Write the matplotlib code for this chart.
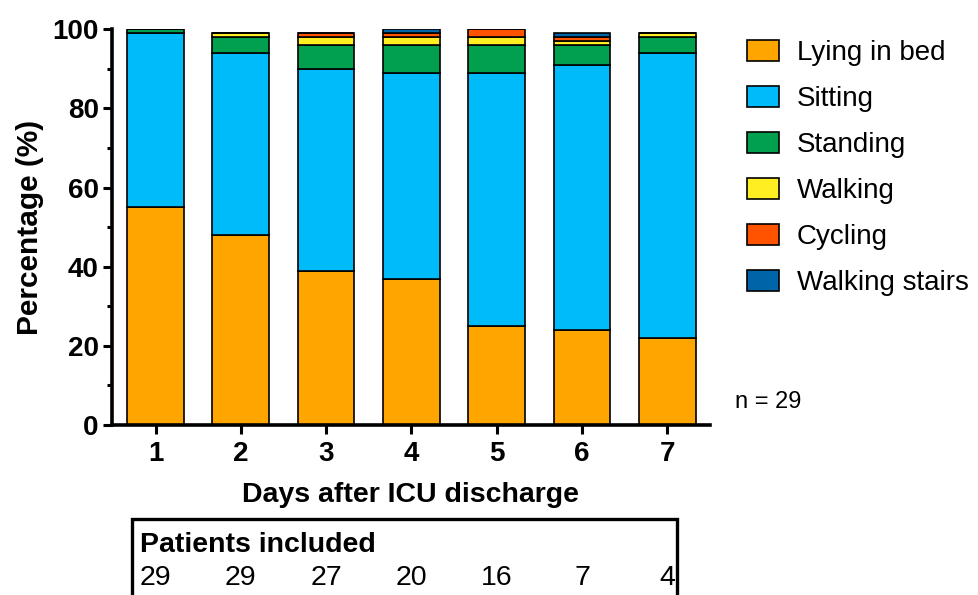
import numpy as np
import matplotlib
matplotlib.use("Agg")
import matplotlib.pyplot as plt
from matplotlib.patches import Rectangle, Patch
from matplotlib.ticker import MultipleLocator
import matplotlib.transforms as mtransforms

plt.rcParams["font.family"] = ["Liberation Sans", "DejaVu Sans"]

# data (percent of time per activity)
days = [1, 2, 3, 4, 5, 6, 7]
lying = [55, 48, 39, 37, 25, 24, 22]
sitting = [44, 46, 51, 52, 64, 67, 72]
standing = [1, 4, 6, 7, 7, 5, 4]
walking = [0, 1, 2, 2, 2, 1, 1]
cycling = [0, 0, 1, 1, 2, 1, 0]
stairs = [0, 0, 0, 1, 0, 1, 0]
patients = [29, 29, 27, 20, 16, 7, 4]

labels = ["Lying in bed", "Sitting", "Standing", "Walking", "Cycling", "Walking stairs"]
colors = ["#FFA500", "#00BBF9", "#00A04E", "#FFEE22", "#FF5300", "#0065A8"]
series = [lying, sitting, standing, walking, cycling, stairs]

fs = 20.5
fig = plt.figure(figsize=(9.79, 5.95), dpi=100)
ax = fig.add_axes([0.1144, 0.2857, 0.6108, 0.6651])

bottom = np.zeros(len(days))
for vals, col, lab in zip(series, colors, labels):
    vals = np.array(vals, dtype=float)
    ax.bar(days, vals, bottom=bottom, width=0.665, color=col,
           edgecolor="black", linewidth=1.2, label=lab)
    bottom += vals

ax.set_xlim(0.49, 7.5)
ax.set_ylim(0, 100)
ax.set_xticks(days)
ax.set_yticks([0, 20, 40, 60, 80, 100])
ax.yaxis.set_minor_locator(MultipleLocator(10))
for s in ["top", "right"]:
    ax.spines[s].set_visible(False)
for s in ["left", "bottom"]:
    ax.spines[s].set_linewidth(2.6)
ax.tick_params(axis="both", which="major", width=2.2, length=6.5,
               labelsize=20, pad=3)
ax.tick_params(axis="x", which="major", pad=5)
ax.tick_params(axis="y", which="minor", width=2.2, length=3.8)
for t in ax.get_xticklabels() + ax.get_yticklabels():
    t.set_fontweight("bold")

ax.set_ylabel("Percentage (%)", fontsize=21.5, fontweight="bold", labelpad=6)
ax.set_xlabel("Days after ICU discharge", fontsize=fs, fontweight="bold", labelpad=11)

handles = [Patch(facecolor=c, edgecolor="black", linewidth=1.2) for c in colors]
fig.legend(handles, labels, loc="upper left", bbox_to_anchor=(0.763, 0.933),
           frameon=False, fontsize=20, borderpad=0, borderaxespad=0,
           handlelength=1.15, handleheight=0.8, handletextpad=0.65,
           labelspacing=0.71)

fig.text(735 / 979, 1 - 408 / 595, "n = 29", fontsize=17, ha="left", va="baseline")

# patients included box
box = Rectangle((132 / 979, -0.05), (677 - 132) / 979, 0.05 + (595 - 519) / 595,
                transform=fig.transFigure, fill=False, edgecolor="black",
                linewidth=2.4, clip_on=False)
fig.patches.append(box)
fig.text(140 / 979, 1 - 552 / 595, "Patients included", fontsize=fs,
         fontweight="bold", ha="left", va="baseline")
trans = mtransforms.blended_transform_factory(ax.transData, fig.transFigure)
for d, n in zip(days, patients):
    fig.text(d, 1 - 585 / 595, str(n), fontsize=fs, ha="center", va="baseline",
             transform=trans)

fig.savefig("out.png", dpi=100)
